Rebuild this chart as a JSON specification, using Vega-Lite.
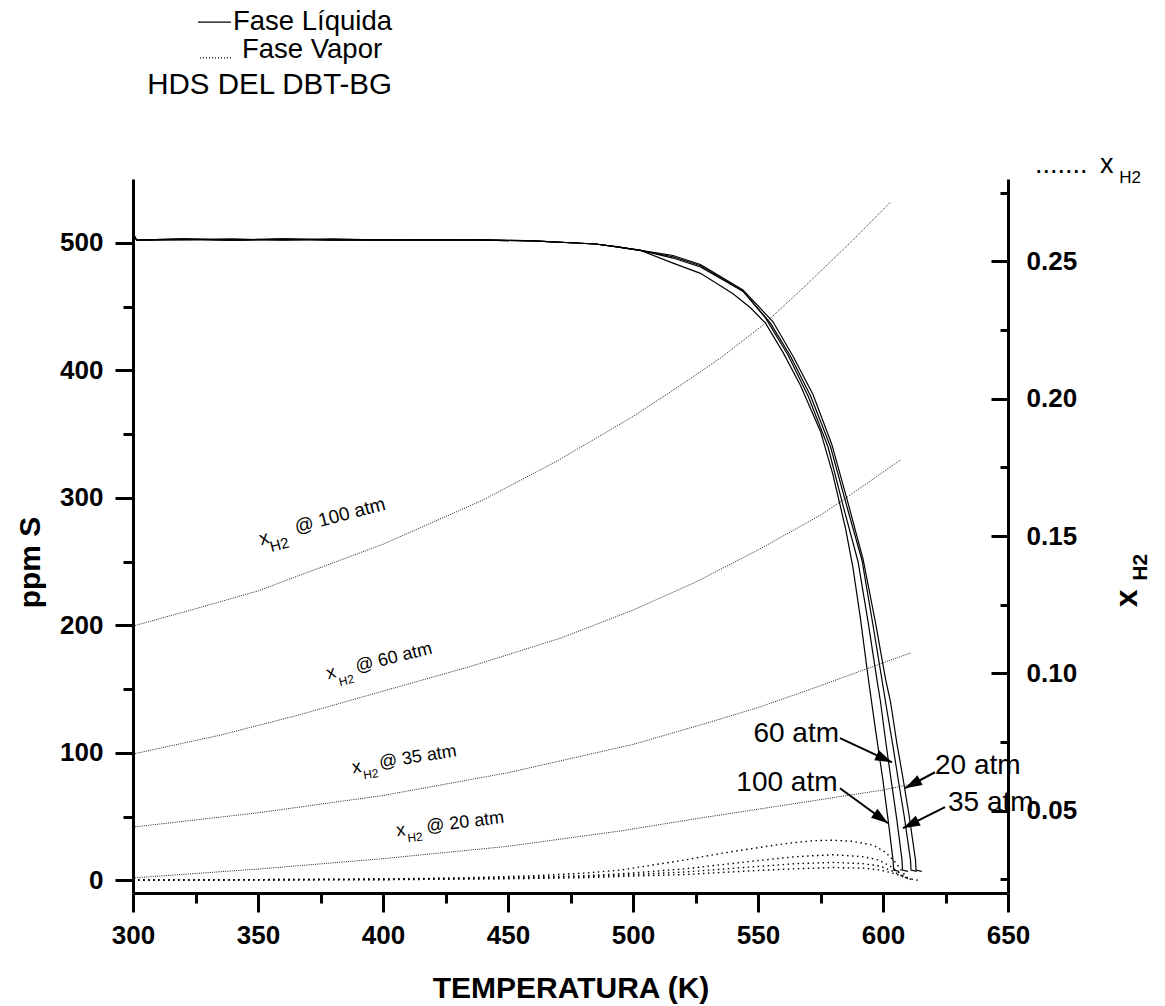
{
  "$schema": "https://vega.github.io/schema/vega-lite/v6.json",
  "width": 875,
  "height": 714,
  "autosize": "none",
  "padding": {"left": 133, "top": 179, "right": 157, "bottom": 113},
  "background": "white",
  "config": {"view": {"stroke": null}, "font": "Liberation Sans"},
  "datasets": {
    "liquid": [
      {"P": "100 atm", "T": 300, "ppm": 507}, {"P": "100 atm", "T": 301.5, "ppm": 502}, {"P": "100 atm", "T": 320, "ppm": 503}, {"P": "100 atm", "T": 340, "ppm": 502}, {"P": "100 atm", "T": 360, "ppm": 503}, {"P": "100 atm", "T": 380, "ppm": 502.5}, {"P": "100 atm", "T": 400, "ppm": 502}, {"P": "100 atm", "T": 420, "ppm": 502.5}, {"P": "100 atm", "T": 440, "ppm": 502}, {"P": "100 atm", "T": 460, "ppm": 501.5}, {"P": "100 atm", "T": 475, "ppm": 500}, {"P": "100 atm", "T": 485, "ppm": 499}, {"P": "100 atm", "T": 493, "ppm": 497}, {"P": "100 atm", "T": 503, "ppm": 494},
      {"P": "100 atm", "T": 516, "ppm": 484}, {"P": "100 atm", "T": 527, "ppm": 476}, {"P": "100 atm", "T": 540, "ppm": 460}, {"P": "100 atm", "T": 547, "ppm": 449}, {"P": "100 atm", "T": 553, "ppm": 437}, {"P": "100 atm", "T": 560, "ppm": 414}, {"P": "100 atm", "T": 567, "ppm": 388}, {"P": "100 atm", "T": 575, "ppm": 352}, {"P": "100 atm", "T": 580, "ppm": 318}, {"P": "100 atm", "T": 585, "ppm": 276}, {"P": "100 atm", "T": 588, "ppm": 245}, {"P": "100 atm", "T": 591, "ppm": 205}, {"P": "100 atm", "T": 594, "ppm": 160}, {"P": "100 atm", "T": 597, "ppm": 118}, {"P": "100 atm", "T": 600, "ppm": 78}, {"P": "100 atm", "T": 602, "ppm": 48}, {"P": "100 atm", "T": 604, "ppm": 16}, {"P": "100 atm", "T": 604.3, "ppm": 8}, {"P": "100 atm", "T": 606.5, "ppm": 7},
      {"P": "60 atm", "T": 300, "ppm": 507}, {"P": "60 atm", "T": 301.5, "ppm": 502}, {"P": "60 atm", "T": 320, "ppm": 502.5}, {"P": "60 atm", "T": 340, "ppm": 503}, {"P": "60 atm", "T": 360, "ppm": 502}, {"P": "60 atm", "T": 380, "ppm": 503}, {"P": "60 atm", "T": 400, "ppm": 502}, {"P": "60 atm", "T": 420, "ppm": 502}, {"P": "60 atm", "T": 440, "ppm": 502.5}, {"P": "60 atm", "T": 460, "ppm": 501.5}, {"P": "60 atm", "T": 475, "ppm": 500}, {"P": "60 atm", "T": 485, "ppm": 499}, {"P": "60 atm", "T": 493, "ppm": 497}, {"P": "60 atm", "T": 503, "ppm": 494},
      {"P": "60 atm", "T": 516, "ppm": 488}, {"P": "60 atm", "T": 527, "ppm": 481}, {"P": "60 atm", "T": 544, "ppm": 462}, {"P": "60 atm", "T": 553, "ppm": 441}, {"P": "60 atm", "T": 562, "ppm": 412}, {"P": "60 atm", "T": 570, "ppm": 380}, {"P": "60 atm", "T": 578, "ppm": 340}, {"P": "60 atm", "T": 584, "ppm": 294}, {"P": "60 atm", "T": 590, "ppm": 250}, {"P": "60 atm", "T": 594, "ppm": 203}, {"P": "60 atm", "T": 597.6, "ppm": 157}, {"P": "60 atm", "T": 599, "ppm": 140}, {"P": "60 atm", "T": 601, "ppm": 110}, {"P": "60 atm", "T": 603, "ppm": 82}, {"P": "60 atm", "T": 605.5, "ppm": 48}, {"P": "60 atm", "T": 607.6, "ppm": 16}, {"P": "60 atm", "T": 607.8, "ppm": 8}, {"P": "60 atm", "T": 610, "ppm": 7},
      {"P": "35 atm", "T": 300, "ppm": 507}, {"P": "35 atm", "T": 301.5, "ppm": 502}, {"P": "35 atm", "T": 320, "ppm": 503}, {"P": "35 atm", "T": 340, "ppm": 502}, {"P": "35 atm", "T": 360, "ppm": 502.5}, {"P": "35 atm", "T": 380, "ppm": 502}, {"P": "35 atm", "T": 400, "ppm": 502.5}, {"P": "35 atm", "T": 420, "ppm": 502}, {"P": "35 atm", "T": 440, "ppm": 502}, {"P": "35 atm", "T": 460, "ppm": 501.5}, {"P": "35 atm", "T": 475, "ppm": 500}, {"P": "35 atm", "T": 485, "ppm": 499}, {"P": "35 atm", "T": 493, "ppm": 497}, {"P": "35 atm", "T": 503, "ppm": 494},
      {"P": "35 atm", "T": 516, "ppm": 489}, {"P": "35 atm", "T": 527, "ppm": 482}, {"P": "35 atm", "T": 544, "ppm": 462}, {"P": "35 atm", "T": 555, "ppm": 437}, {"P": "35 atm", "T": 563, "ppm": 411}, {"P": "35 atm", "T": 571, "ppm": 380}, {"P": "35 atm", "T": 579, "ppm": 340}, {"P": "35 atm", "T": 586, "ppm": 290}, {"P": "35 atm", "T": 591.6, "ppm": 251}, {"P": "35 atm", "T": 596, "ppm": 200}, {"P": "35 atm", "T": 599.6, "ppm": 157}, {"P": "35 atm", "T": 601, "ppm": 140}, {"P": "35 atm", "T": 604, "ppm": 105}, {"P": "35 atm", "T": 606, "ppm": 80}, {"P": "35 atm", "T": 608.5, "ppm": 50}, {"P": "35 atm", "T": 611, "ppm": 16}, {"P": "35 atm", "T": 611.2, "ppm": 8}, {"P": "35 atm", "T": 613.5, "ppm": 7},
      {"P": "20 atm", "T": 300, "ppm": 507}, {"P": "20 atm", "T": 301.5, "ppm": 502}, {"P": "20 atm", "T": 320, "ppm": 502.5}, {"P": "20 atm", "T": 340, "ppm": 502}, {"P": "20 atm", "T": 360, "ppm": 503}, {"P": "20 atm", "T": 380, "ppm": 502}, {"P": "20 atm", "T": 400, "ppm": 502}, {"P": "20 atm", "T": 420, "ppm": 502.5}, {"P": "20 atm", "T": 440, "ppm": 502}, {"P": "20 atm", "T": 460, "ppm": 501.5}, {"P": "20 atm", "T": 475, "ppm": 500}, {"P": "20 atm", "T": 485, "ppm": 499}, {"P": "20 atm", "T": 493, "ppm": 497}, {"P": "20 atm", "T": 503, "ppm": 494},
      {"P": "20 atm", "T": 516, "ppm": 490}, {"P": "20 atm", "T": 527, "ppm": 483}, {"P": "20 atm", "T": 544, "ppm": 463}, {"P": "20 atm", "T": 556, "ppm": 438}, {"P": "20 atm", "T": 564, "ppm": 411}, {"P": "20 atm", "T": 572, "ppm": 381}, {"P": "20 atm", "T": 579.5, "ppm": 342}, {"P": "20 atm", "T": 586, "ppm": 296}, {"P": "20 atm", "T": 592, "ppm": 252}, {"P": "20 atm", "T": 597, "ppm": 202}, {"P": "20 atm", "T": 601, "ppm": 158}, {"P": "20 atm", "T": 603, "ppm": 140}, {"P": "20 atm", "T": 605.5, "ppm": 108}, {"P": "20 atm", "T": 608, "ppm": 80}, {"P": "20 atm", "T": 610.5, "ppm": 50}, {"P": "20 atm", "T": 613, "ppm": 16}, {"P": "20 atm", "T": 613.2, "ppm": 8}, {"P": "20 atm", "T": 615.5, "ppm": 7}
    ],
    "vapor": [
      {"P": "V1", "T": 300, "ppm": 0.3}, {"P": "V1", "T": 350, "ppm": 0.5}, {"P": "V1", "T": 400, "ppm": 1}, {"P": "V1", "T": 430, "ppm": 1.8}, {"P": "V1", "T": 460, "ppm": 3.5}, {"P": "V1", "T": 480, "ppm": 5.5}, {"P": "V1", "T": 495, "ppm": 8}, {"P": "V1", "T": 508, "ppm": 12}, {"P": "V1", "T": 521, "ppm": 16}, {"P": "V1", "T": 535, "ppm": 21}, {"P": "V1", "T": 548, "ppm": 25}, {"P": "V1", "T": 562, "ppm": 29}, {"P": "V1", "T": 572, "ppm": 31}, {"P": "V1", "T": 580, "ppm": 31.4}, {"P": "V1", "T": 588, "ppm": 30.5}, {"P": "V1", "T": 596, "ppm": 27.5}, {"P": "V1", "T": 601, "ppm": 22}, {"P": "V1", "T": 605, "ppm": 14}, {"P": "V1", "T": 608, "ppm": 6}, {"P": "V1", "T": 610, "ppm": 1},
      {"P": "V2", "T": 300, "ppm": 0.2}, {"P": "V2", "T": 400, "ppm": 0.8}, {"P": "V2", "T": 450, "ppm": 2}, {"P": "V2", "T": 480, "ppm": 3.5}, {"P": "V2", "T": 495, "ppm": 5}, {"P": "V2", "T": 521, "ppm": 9}, {"P": "V2", "T": 548, "ppm": 15}, {"P": "V2", "T": 565, "ppm": 18.5}, {"P": "V2", "T": 580, "ppm": 20}, {"P": "V2", "T": 592, "ppm": 18.5}, {"P": "V2", "T": 598, "ppm": 16}, {"P": "V2", "T": 603, "ppm": 11}, {"P": "V2", "T": 607, "ppm": 5}, {"P": "V2", "T": 611, "ppm": 0.5},
      {"P": "V3", "T": 300, "ppm": 0}, {"P": "V3", "T": 400, "ppm": 0.6}, {"P": "V3", "T": 450, "ppm": 1.5}, {"P": "V3", "T": 480, "ppm": 2.8}, {"P": "V3", "T": 495, "ppm": 4}, {"P": "V3", "T": 521, "ppm": 6.5}, {"P": "V3", "T": 548, "ppm": 10.5}, {"P": "V3", "T": 565, "ppm": 13}, {"P": "V3", "T": 580, "ppm": 14}, {"P": "V3", "T": 592, "ppm": 13}, {"P": "V3", "T": 599, "ppm": 11}, {"P": "V3", "T": 604, "ppm": 7}, {"P": "V3", "T": 608, "ppm": 3}, {"P": "V3", "T": 612, "ppm": 0},
      {"P": "V4", "T": 300, "ppm": 0}, {"P": "V4", "T": 400, "ppm": 0.4}, {"P": "V4", "T": 450, "ppm": 1.2}, {"P": "V4", "T": 480, "ppm": 2}, {"P": "V4", "T": 495, "ppm": 3}, {"P": "V4", "T": 521, "ppm": 4.5}, {"P": "V4", "T": 548, "ppm": 7.5}, {"P": "V4", "T": 565, "ppm": 9}, {"P": "V4", "T": 580, "ppm": 10}, {"P": "V4", "T": 592, "ppm": 9.5}, {"P": "V4", "T": 599, "ppm": 8}, {"P": "V4", "T": 605, "ppm": 5}, {"P": "V4", "T": 609, "ppm": 2}, {"P": "V4", "T": 614, "ppm": 0}
    ],
    "xh2": [
      {"P": "100 atm", "T": 300, "xh2": 0.1172}, {"P": "100 atm", "T": 325, "xh2": 0.1235}, {"P": "100 atm", "T": 350, "xh2": 0.130}, {"P": "100 atm", "T": 367, "xh2": 0.1358}, {"P": "100 atm", "T": 400, "xh2": 0.147}, {"P": "100 atm", "T": 440, "xh2": 0.1631}, {"P": "100 atm", "T": 470, "xh2": 0.1775}, {"P": "100 atm", "T": 500, "xh2": 0.1935}, {"P": "100 atm", "T": 520, "xh2": 0.2055}, {"P": "100 atm", "T": 535, "xh2": 0.2148}, {"P": "100 atm", "T": 552, "xh2": 0.2268}, {"P": "100 atm", "T": 570, "xh2": 0.242}, {"P": "100 atm", "T": 588, "xh2": 0.2578}, {"P": "100 atm", "T": 603, "xh2": 0.2716},
      {"P": "60 atm", "T": 300, "xh2": 0.0706}, {"P": "60 atm", "T": 335, "xh2": 0.0775}, {"P": "60 atm", "T": 367, "xh2": 0.085}, {"P": "60 atm", "T": 400, "xh2": 0.0935}, {"P": "60 atm", "T": 435, "xh2": 0.1025}, {"P": "60 atm", "T": 471, "xh2": 0.1128}, {"P": "60 atm", "T": 500, "xh2": 0.123}, {"P": "60 atm", "T": 525, "xh2": 0.1332}, {"P": "60 atm", "T": 550, "xh2": 0.1449}, {"P": "60 atm", "T": 575, "xh2": 0.1576}, {"P": "60 atm", "T": 584, "xh2": 0.1631}, {"P": "60 atm", "T": 607, "xh2": 0.1777},
      {"P": "35 atm", "T": 300, "xh2": 0.044}, {"P": "35 atm", "T": 350, "xh2": 0.0492}, {"P": "35 atm", "T": 400, "xh2": 0.0555}, {"P": "35 atm", "T": 450, "xh2": 0.0638}, {"P": "35 atm", "T": 500, "xh2": 0.0741}, {"P": "35 atm", "T": 527, "xh2": 0.0812}, {"P": "35 atm", "T": 550, "xh2": 0.0875}, {"P": "35 atm", "T": 575, "xh2": 0.0955}, {"P": "35 atm", "T": 590, "xh2": 0.1005}, {"P": "35 atm", "T": 611, "xh2": 0.1074},
      {"P": "20 atm", "T": 300, "xh2": 0.0255}, {"P": "20 atm", "T": 350, "xh2": 0.0287}, {"P": "20 atm", "T": 400, "xh2": 0.0325}, {"P": "20 atm", "T": 450, "xh2": 0.037}, {"P": "20 atm", "T": 495, "xh2": 0.0426}, {"P": "20 atm", "T": 527, "xh2": 0.0473}, {"P": "20 atm", "T": 550, "xh2": 0.0505}, {"P": "20 atm", "T": 575, "xh2": 0.054}, {"P": "20 atm", "T": 600, "xh2": 0.0575}, {"P": "20 atm", "T": 613, "xh2": 0.06}
    ]
  },
  "layer": [
    {
      "layer": [
        {
          "data": {"name": "liquid"},
          "mark": {"type": "line", "color": "black", "strokeWidth": 1.2},
          "encoding": {
            "x": {"field": "T", "type": "quantitative", "scale": {"domain": [300, 650], "nice": false, "zero": false},
              "axis": {"title": "TEMPERATURA (K)", "values": [300, 325, 350, 375, 400, 425, 450, 475, 500, 525, 550, 575, 600, 625, 650],
                "labelExpr": "datum.value % 50 === 0 ? datum.label : ''", "format": "d",
                "domainColor": "black", "domainWidth": 3, "tickColor": "black", "tickWidth": 3,
                "tickSize": {"condition": {"test": "datum.value % 50 === 0", "value": 19}, "value": 10},
                "labelFontSize": 26, "labelFontWeight": "bold", "labelColor": "black", "labelPadding": 10, "labelFlush": false,
                "titleFontSize": 30, "titleFontWeight": "bold", "titleColor": "black", "titleBaseline": "alphabetic", "titleY": 104, "grid": false}},
            "y": {"field": "ppm", "type": "quantitative", "scale": {"domain": [-10, 550], "nice": false, "zero": false},
              "axis": {"title": "ppm S", "values": [0, 50, 100, 150, 200, 250, 300, 350, 400, 450, 500],
                "labelExpr": "datum.value % 100 === 0 ? datum.label : ''",
                "domainColor": "black", "domainWidth": 3, "tickColor": "black", "tickWidth": 3,
                "tickSize": {"condition": {"test": "datum.value % 100 === 0", "value": 18}, "value": 10},
                "labelFontSize": 26, "labelFontWeight": "bold", "labelColor": "black", "labelPadding": 12, "labelFlush": false,
                "titleFontSize": 30, "titleFontWeight": "bold", "titleColor": "black", "titleAngle": 270, "titleX": -103, "titleY": 383, "titleAlign": "center", "titleBaseline": "middle", "grid": false}},
            "detail": {"field": "P"}
          }
        },
        {
          "data": {"name": "vapor"},
          "mark": {"type": "line", "color": "black", "strokeWidth": 1.4, "strokeDash": [1.5, 3.5]},
          "encoding": {"x": {"field": "T", "type": "quantitative"}, "y": {"field": "ppm", "type": "quantitative"}, "detail": {"field": "P"}}
        },
        {
          "data": {"values": [{"T": 326, "T2": 339.2, "ppm": 673}]},
          "mark": {"type": "rule", "color": "black", "strokeWidth": 1.2},
          "encoding": {"x": {"field": "T", "type": "quantitative"}, "x2": {"field": "T2"}, "y": {"field": "ppm", "type": "quantitative"}}
        },
        {
          "data": {"values": [{"T": 326.8, "T2": 339.2, "ppm": 645}]},
          "mark": {"type": "rule", "color": "black", "strokeWidth": 1.2, "strokeDash": [1, 2]},
          "encoding": {"x": {"field": "T", "type": "quantitative"}, "x2": {"field": "T2"}, "y": {"field": "ppm", "type": "quantitative"}}
        },
        {
          "data": {"values": [
            {"T": 340, "ppm": 673, "label": "Fase Líquida"},
            {"T": 343.6, "ppm": 651, "label": "Fase Vapor"}
          ]},
          "mark": {"type": "text", "align": "left", "baseline": "middle", "fontSize": 27.5, "color": "black"},
          "encoding": {"x": {"field": "T", "type": "quantitative"}, "y": {"field": "ppm", "type": "quantitative"}, "text": {"field": "label"}}
        },
        {
          "data": {"values": [
            {"T": 403.6, "ppm": 623.5, "label": "HDS DEL DBT-BG"}
          ]},
          "mark": {"type": "text", "align": "right", "baseline": "middle", "fontSize": 29.5, "color": "black"},
          "encoding": {"x": {"field": "T", "type": "quantitative"}, "y": {"field": "ppm", "type": "quantitative"}, "text": {"field": "label"}}
        },
        {
          "data": {"values": [{"T": 660.8, "ppm": 554.5, "label": "......."}, {"T": 686.8, "ppm": 554.5, "label": "x"}]},
          "mark": {"type": "text", "align": "left", "baseline": "alphabetic", "fontSize": 27, "color": "black"},
          "encoding": {"x": {"field": "T", "type": "quantitative"}, "y": {"field": "ppm", "type": "quantitative"}, "text": {"field": "label"}}
        },
        {
          "data": {"values": [{"T": 694.5, "ppm": 546.7, "label": "H2"}]},
          "mark": {"type": "text", "align": "left", "baseline": "alphabetic", "fontSize": 17, "color": "black"},
          "encoding": {"x": {"field": "T", "type": "quantitative"}, "y": {"field": "ppm", "type": "quantitative"}, "text": {"field": "label"}}
        },
        {
          "data": {"values": [{"T": 351.2, "ppm": 262.7, "label": "x"}, {"T": 365.4, "ppm": 272, "label": "@ 100 atm"}]},
          "mark": {"type": "text", "align": "left", "baseline": "alphabetic", "fontSize": 19, "angle": 345, "color": "black"},
          "encoding": {"x": {"field": "T", "type": "quantitative"}, "y": {"field": "ppm", "type": "quantitative"}, "text": {"field": "label"}}
        },
        {
          "data": {"values": [{"T": 355.4, "ppm": 257.5, "label": "H2"}]},
          "mark": {"type": "text", "align": "left", "baseline": "alphabetic", "fontSize": 15, "angle": 345, "color": "black"},
          "encoding": {"x": {"field": "T", "type": "quantitative"}, "y": {"field": "ppm", "type": "quantitative"}, "text": {"field": "label"}}
        },
        {
          "data": {"values": [{"T": 378, "ppm": 157.6, "label": "x"}, {"T": 389.6, "ppm": 163.1, "label": "@ 60 atm"}]},
          "mark": {"type": "text", "align": "left", "baseline": "alphabetic", "fontSize": 18, "angle": 346, "color": "black"},
          "encoding": {"x": {"field": "T", "type": "quantitative"}, "y": {"field": "ppm", "type": "quantitative"}, "text": {"field": "label"}}
        },
        {
          "data": {"values": [{"T": 382.8, "ppm": 152.2, "label": "H2"}]},
          "mark": {"type": "text", "align": "left", "baseline": "alphabetic", "fontSize": 12, "angle": 346, "color": "black"},
          "encoding": {"x": {"field": "T", "type": "quantitative"}, "y": {"field": "ppm", "type": "quantitative"}, "text": {"field": "label"}}
        },
        {
          "data": {"values": [{"T": 388, "ppm": 83.9, "label": "x"}, {"T": 398.8, "ppm": 87.8, "label": "@ 35 atm"}]},
          "mark": {"type": "text", "align": "left", "baseline": "alphabetic", "fontSize": 18, "angle": 351, "color": "black"},
          "encoding": {"x": {"field": "T", "type": "quantitative"}, "y": {"field": "ppm", "type": "quantitative"}, "text": {"field": "label"}}
        },
        {
          "data": {"values": [{"T": 392.4, "ppm": 79.2, "label": "H2"}]},
          "mark": {"type": "text", "align": "left", "baseline": "alphabetic", "fontSize": 12, "angle": 351, "color": "black"},
          "encoding": {"x": {"field": "T", "type": "quantitative"}, "y": {"field": "ppm", "type": "quantitative"}, "text": {"field": "label"}}
        },
        {
          "data": {"values": [{"T": 405.6, "ppm": 34.5, "label": "x"}, {"T": 417.6, "ppm": 37.6, "label": "@ 20 atm"}]},
          "mark": {"type": "text", "align": "left", "baseline": "alphabetic", "fontSize": 18, "angle": 353, "color": "black"},
          "encoding": {"x": {"field": "T", "type": "quantitative"}, "y": {"field": "ppm", "type": "quantitative"}, "text": {"field": "label"}}
        },
        {
          "data": {"values": [{"T": 410, "ppm": 29.8, "label": "H2"}]},
          "mark": {"type": "text", "align": "left", "baseline": "alphabetic", "fontSize": 12, "angle": 353, "color": "black"},
          "encoding": {"x": {"field": "T", "type": "quantitative"}, "y": {"field": "ppm", "type": "quantitative"}, "text": {"field": "label"}}
        },
        {
          "data": {"values": [{"T": 582.4, "ppm": 114.5, "label": "60 atm"}, {"T": 581.8, "ppm": 76.1, "label": "100 atm"}]},
          "mark": {"type": "text", "align": "right", "baseline": "middle", "fontSize": 28, "color": "black"},
          "encoding": {"x": {"field": "T", "type": "quantitative"}, "y": {"field": "ppm", "type": "quantitative"}, "text": {"field": "label"}}
        },
        {
          "data": {"values": [{"T": 620.8, "ppm": 89.4, "label": "20 atm"}, {"T": 626, "ppm": 60.4, "label": "35 atm"}]},
          "mark": {"type": "text", "align": "left", "baseline": "middle", "fontSize": 28, "color": "black"},
          "encoding": {"x": {"field": "T", "type": "quantitative"}, "y": {"field": "ppm", "type": "quantitative"}, "text": {"field": "label"}}
        },
        {
          "data": {"values": [
            {"T": 582.8, "ppm": 111.4, "T2": 603.6, "ppm2": 92.5},
            {"T": 582.8, "ppm": 72.2, "T2": 602, "ppm2": 44.7},
            {"T": 620.8, "ppm": 84.7, "T2": 608.8, "ppm2": 72.2},
            {"T": 624.8, "ppm": 57.3, "T2": 608, "ppm2": 40.8}
          ]},
          "mark": {"type": "rule", "color": "black", "strokeWidth": 2},
          "encoding": {"x": {"field": "T", "type": "quantitative"}, "y": {"field": "ppm", "type": "quantitative"}, "x2": {"field": "T2"}, "y2": {"field": "ppm2"}}
        },
        {
          "data": {"values": [{"T": 603.6, "ppm": 92.5}]},
          "mark": {"type": "point", "shape": "M0,0L-2,-0.65L-2,0.65Z", "filled": true, "color": "black", "opacity": 1, "size": 289, "angle": 24.8},
          "encoding": {"x": {"field": "T", "type": "quantitative"}, "y": {"field": "ppm", "type": "quantitative"}}
        },
        {
          "data": {"values": [{"T": 602, "ppm": 44.7}]},
          "mark": {"type": "point", "shape": "M0,0L-2,-0.65L-2,0.65Z", "filled": true, "color": "black", "opacity": 1, "size": 289, "angle": 36},
          "encoding": {"x": {"field": "T", "type": "quantitative"}, "y": {"field": "ppm", "type": "quantitative"}}
        },
        {
          "data": {"values": [{"T": 608.8, "ppm": 72.2}]},
          "mark": {"type": "point", "shape": "M0,0L-2,-0.65L-2,0.65Z", "filled": true, "color": "black", "opacity": 1, "size": 289, "angle": 152},
          "encoding": {"x": {"field": "T", "type": "quantitative"}, "y": {"field": "ppm", "type": "quantitative"}}
        },
        {
          "data": {"values": [{"T": 608, "ppm": 40.8}]},
          "mark": {"type": "point", "shape": "M0,0L-2,-0.65L-2,0.65Z", "filled": true, "color": "black", "opacity": 1, "size": 289, "angle": 153.4},
          "encoding": {"x": {"field": "T", "type": "quantitative"}, "y": {"field": "ppm", "type": "quantitative"}}
        },
        {
          "data": {"values": [{"T": 697.6, "ppm": 221, "label": "x"}]},
          "mark": {"type": "text", "align": "center", "baseline": "middle", "fontSize": 32, "fontWeight": "bold", "angle": 270, "color": "black"},
          "encoding": {"x": {"field": "T", "type": "quantitative"}, "y": {"field": "ppm", "type": "quantitative"}, "text": {"field": "label"}}
        },
        {
          "data": {"values": [{"T": 703.2, "ppm": 245.5, "label": "H2"}]},
          "mark": {"type": "text", "align": "center", "baseline": "middle", "fontSize": 21, "fontWeight": "bold", "angle": 270, "color": "black"},
          "encoding": {"x": {"field": "T", "type": "quantitative"}, "y": {"field": "ppm", "type": "quantitative"}, "text": {"field": "label"}}
        }
      ]
    },
    {
      "layer": [
        {
          "data": {"name": "xh2"},
          "mark": {"type": "line", "color": "#222222", "strokeWidth": 1, "strokeDash": [1, 1.2]},
          "encoding": {
            "x": {"field": "T", "type": "quantitative"},
            "y": {"field": "xh2", "type": "quantitative", "scale": {"domain": [0.02, 0.28], "nice": false, "zero": false},
              "axis": {"orient": "right", "title": null, "values": [0.025, 0.05, 0.075, 0.1, 0.125, 0.15, 0.175, 0.2, 0.225, 0.25, 0.275],
                "format": ".2f", "labelExpr": "abs(datum.value * 20 - round(datum.value * 20)) < 0.001 ? datum.label : ''",
                "domainColor": "black", "domainWidth": 3, "tickColor": "black", "tickWidth": 3,
                "tickSize": {"condition": {"test": "abs(datum.value * 20 - round(datum.value * 20)) < 0.001", "value": -17}, "value": -8},
                "labelFontSize": 26, "labelFontWeight": "bold", "labelColor": "black", "labelPadding": 35, "labelFlush": false, "grid": false}},
            "detail": {"field": "P"}
          }
        }
      ]
    }
  ],
  "resolve": {"scale": {"y": "independent"}}
}
